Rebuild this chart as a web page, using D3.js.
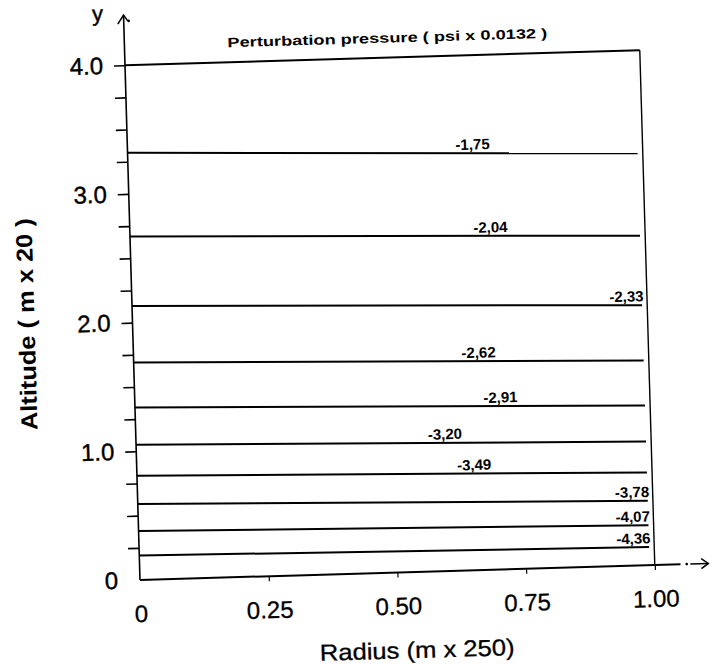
<!DOCTYPE html>
<html><head><meta charset="utf-8">
<script src="https://cdn.jsdelivr.net/npm/d3@7"></script>
<style>html,body{margin:0;padding:0;background:#fff;} svg{display:block;}</style>
</head><body><svg id="chart" width="716" height="668"></svg>
<script>
// ---- data ----
const contourLevels   = [-1.75, -2.04, -2.33, -2.62, -2.91, -3.20, -3.49, -3.78, -4.07, -4.36];
const altitudeAtAxis  = [3.32, 2.67, 2.13, 1.69, 1.34, 1.05, 0.81, 0.59, 0.38, 0.19]; // at radius 0
const altitudeAtEdge  = [3.20, 2.56, 2.02, 1.59, 1.24, 0.96, 0.72, 0.50, 0.31, 0.14]; // at radius 0.99
const contourRadii    = [0, 0.99];
const labelRadius     = [0.67, 0.70, 0.96, 0.67, 0.71, 0.60, 0.655, 0.96, 0.96, 0.96];
const radiusTicks     = [0, 0.25, 0.5, 0.75, 1.0];
const radiusTickLabels= ["0", "0.25", "0.50", "0.75", "1.00"];
const altitudeTicks   = [0, 0.25, 0.5, 0.75, 1, 1.25, 1.5, 1.75, 2, 2.25, 2.5, 2.75, 3, 3.25, 3.5, 3.75, 4];
const altitudeTickLabels = ["0","","","","1.0","","","","2.0","","","","3.0","","","","4.0"];
const titleText = "Perturbation pressure ( psi x 0.0132 )";
const xTitle = "Radius (m x 250)";
const yTitle = "Altitude ( m x 20 )";

const svg = d3.select("#chart");
svg.append("rect").attr("width",716).attr("height",668).attr("fill","#fff");
const FONT = "'Liberation Sans', Arial, Helvetica, sans-serif";

const x = d3.scaleLinear().domain([0, 1]).range([140, 655]);
const y = d3.scaleLinear().domain([0, 4]).range([580, 65]);

// whole scanned figure is slightly rotated
const g = svg.append("g").attr("transform", `rotate(-1.67,${x(0)},${y(0)})`);

// y axis
const yAxis = d3.axisLeft(y).tickValues(altitudeTicks).tickSize(11).tickPadding(11)
  .tickFormat((d, i) => altitudeTickLabels[i]);
const yg = g.append("g").attr("transform", `translate(${x(0)},0)`).call(yAxis);
yg.select(".domain").remove();
yg.selectAll(".tick line").attr("stroke", "#000").attr("stroke-width", 1.6);
yg.selectAll(".tick line").filter(d => d === 0).remove();
yg.selectAll(".tick text").attr("font-family", FONT).attr("font-size", 24).attr("fill", "#000")
  .attr("stroke", "#000").attr("stroke-width", 0.4);

// x axis
const xAxis = d3.axisBottom(x).tickValues(radiusTicks).tickSize(5).tickPadding(20)
  .tickFormat((d, i) => radiusTickLabels[i]);
const xg = g.append("g").attr("transform", `translate(0,${y(0)})`).call(xAxis);
xg.select(".domain").remove();
xg.selectAll(".tick line").attr("stroke", "#000").attr("stroke-width", 1.2);
xg.selectAll(".tick line").filter(d => d === 0).remove();
xg.selectAll(".tick text").attr("font-family", FONT).attr("font-size", 24).attr("fill", "#000")
  .attr("stroke", "#000").attr("stroke-width", 0.3);

// axis lines with arrows
const x0 = x(0), yTop = y(4.39);
g.append("line").attr("x1", x0).attr("y1", y(0)).attr("x2", x0).attr("y2", yTop)
  .attr("stroke", "#000").attr("stroke-width", 1.6);
g.append("path").attr("d", `M${x0-6},${yTop+9}L${x0},${yTop}L${x0+4},${yTop+6}`)
  .attr("fill", "none").attr("stroke", "#000").attr("stroke-width", 1.5);
g.append("circle").attr("cx", x0+5).attr("cy", yTop+6).attr("r", 1.3).attr("fill", "#000");

g.append("line").attr("x1", x(0)).attr("y1", y(0)).attr("x2", x(1.05)).attr("y2", y(0))
  .attr("stroke", "#000").attr("stroke-width", 2);
g.append("circle").attr("cx", x(1.062)).attr("cy", y(0)).attr("r", 1.4).attr("fill", "#000");
const xTip = x(1.104);
g.append("line").attr("x1", x(1.069)).attr("y1", y(0)).attr("x2", xTip).attr("y2", y(0))
  .attr("stroke", "#000").attr("stroke-width", 1.5);
g.append("path").attr("d", `M${xTip-7},${y(0)-5}L${xTip},${y(0)}L${xTip-7},${y(0)+5}`)
  .attr("fill", "none").attr("stroke", "#000").attr("stroke-width", 1.5);

// frame
g.append("line").attr("x1", x(0)).attr("y1", y(4)).attr("x2", x(1)).attr("y2", y(4))
  .attr("stroke", "#000").attr("stroke-width", 2);
g.append("line").attr("x1", x(1)).attr("y1", y(0)).attr("x2", x(1)).attr("y2", y(4))
  .attr("stroke", "#000").attr("stroke-width", 1.4);

// contours
const line = d3.line().x(d => x(d[0])).y(d => y(d[1]));
contourLevels.forEach((lev, i) => {
  const pts = [[contourRadii[0], altitudeAtAxis[i]], [contourRadii[1], altitudeAtEdge[i]]];
  g.append("path").attr("d", line(pts)).attr("fill", "none")
    .attr("stroke", "#000").attr("stroke-width", 2);
  const r = labelRadius[i];
  const a = altitudeAtAxis[i] + (altitudeAtEdge[i] - altitudeAtAxis[i]) * (r - contourRadii[0]) / (contourRadii[1] - contourRadii[0]);
  g.append("text").attr("x", x(r)).attr("y", y(a) - 3.5)
    .attr("text-anchor", "middle").attr("font-family", FONT).attr("font-weight", "bold")
    .attr("font-size", 15).attr("fill", "#000")
    .text(d3.format(".2f")(lev).replace("−", "-").replace(".", ","));
});

// titles
g.append("text").attr("x", 403).attr("y", 50).attr("text-anchor", "middle")
  .attr("font-family", FONT).attr("font-weight", "bold").attr("font-size", 13.5)
  .attr("textLength", 320).attr("lengthAdjust", "spacingAndGlyphs").text(titleText);
g.append("text").attr("x", 415).attr("y", 666).attr("text-anchor", "middle")
  .attr("font-family", FONT).attr("font-size", 23)
  .attr("stroke", "#000").attr("stroke-width", 0.3)
  .attr("textLength", 195).attr("lengthAdjust", "spacingAndGlyphs").text(xTitle);
g.append("text").attr("transform", "translate(42,321) rotate(-90)").attr("text-anchor", "middle")
  .attr("font-family", FONT).attr("font-weight", "bold").attr("font-size", 23)
  .attr("textLength", 212).attr("lengthAdjust", "spacingAndGlyphs").text(yTitle);
g.append("text").attr("x", 114).attr("y", 20).attr("text-anchor", "middle")
  .attr("font-family", FONT).attr("font-size", 22).attr("stroke", "#000").attr("stroke-width", 0.4)
  .text("y");
</script></body></html>
